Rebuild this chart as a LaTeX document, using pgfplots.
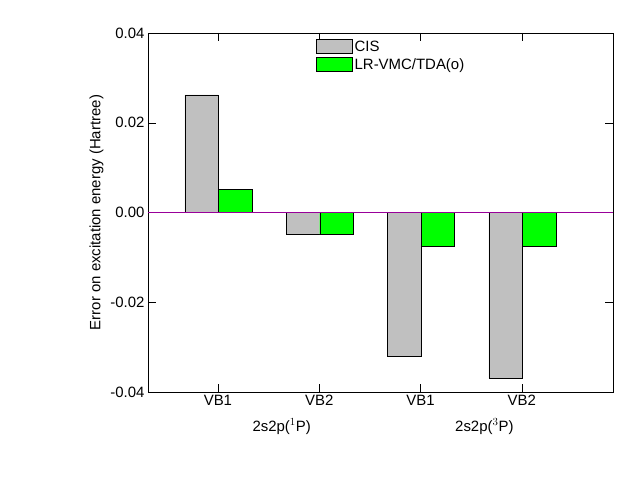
\documentclass[border=0pt]{standalone}
\usepackage{pgfplots}
\pgfplotsset{compat=1.18}
\usepackage{fontspec}
\setmainfont{Liberation Sans}
\definecolor{bargrey}{RGB}{192,192,192}
\definecolor{bargreen}{RGB}{0,255,0}
\begin{document}
\begin{tikzpicture}[x=1bp,y=1bp]
\path[use as bounding box] (0,0) rectangle (640,480);
\begin{axis}[
  at={(148bp,88bp)}, anchor=south west,
  scale only axis, width=465bp, height=359bp,
  xmin=0.31, xmax=4.9, ymin=-0.04, ymax=0.04,
  xtick={1,2,3,4}, xticklabels={VB1,VB2,VB1,VB2},
  ytick={-0.04,-0.02,0,0.02,0.04},
  y tick label style={/pgf/number format/fixed, /pgf/number format/fixed zerofill, /pgf/number format/precision=2},
  scaled y ticks=false,
  /pgf/number format/assume math mode=true,
  tick align=inside, major tick length=8bp,
  every tick/.style={black},
  tick label style={font=\fontsize{15}{18}\selectfont},
  ylabel={Error on excitation energy (Hartree)},
  ylabel style={font=\fontsize{15}{18}\selectfont},
  legend style={at={(0.355,0.99)}, anchor=north west, draw=none, fill=none,
    font=\fontsize{15}{18}\selectfont, row sep=2bp},
  legend cell align=left,
  axis line style={black},
  clip=false,
]
\addplot[ybar, bar width=0.33, bar shift=0pt, fill=bargrey, draw=black,
  area legend, legend image code/.code={\draw[fill=bargrey,draw=black] (0,-6bp) rectangle (36bp,8bp);}]
  coordinates {(0.84,0.0262) (1.84,-0.0048) (2.84,-0.032) (3.84,-0.0369)};
\addlegendentry{CIS}
\addplot[ybar, bar width=0.33, bar shift=0pt, fill=bargreen, draw=black,
  area legend, legend image code/.code={\draw[fill=bargreen,draw=black] (0,-6bp) rectangle (36bp,8bp);}]
  coordinates {(1.17,0.0052) (2.17,-0.0048) (3.17,-0.0075) (4.17,-0.0075)};
\addlegendentry{LR-VMC/TDA(o)}
\draw[color=violet!80!magenta] (axis cs:0.31,0) -- (axis cs:4.9,0);
\node[font=\fontsize{15}{18}\selectfont] at (axis cs:1.63,-0.0477) {2s2p($^1$P)};
\node[font=\fontsize{15}{18}\selectfont] at (axis cs:3.63,-0.0477) {2s2p($^3$P)};
\end{axis}
\end{tikzpicture}
\end{document}
